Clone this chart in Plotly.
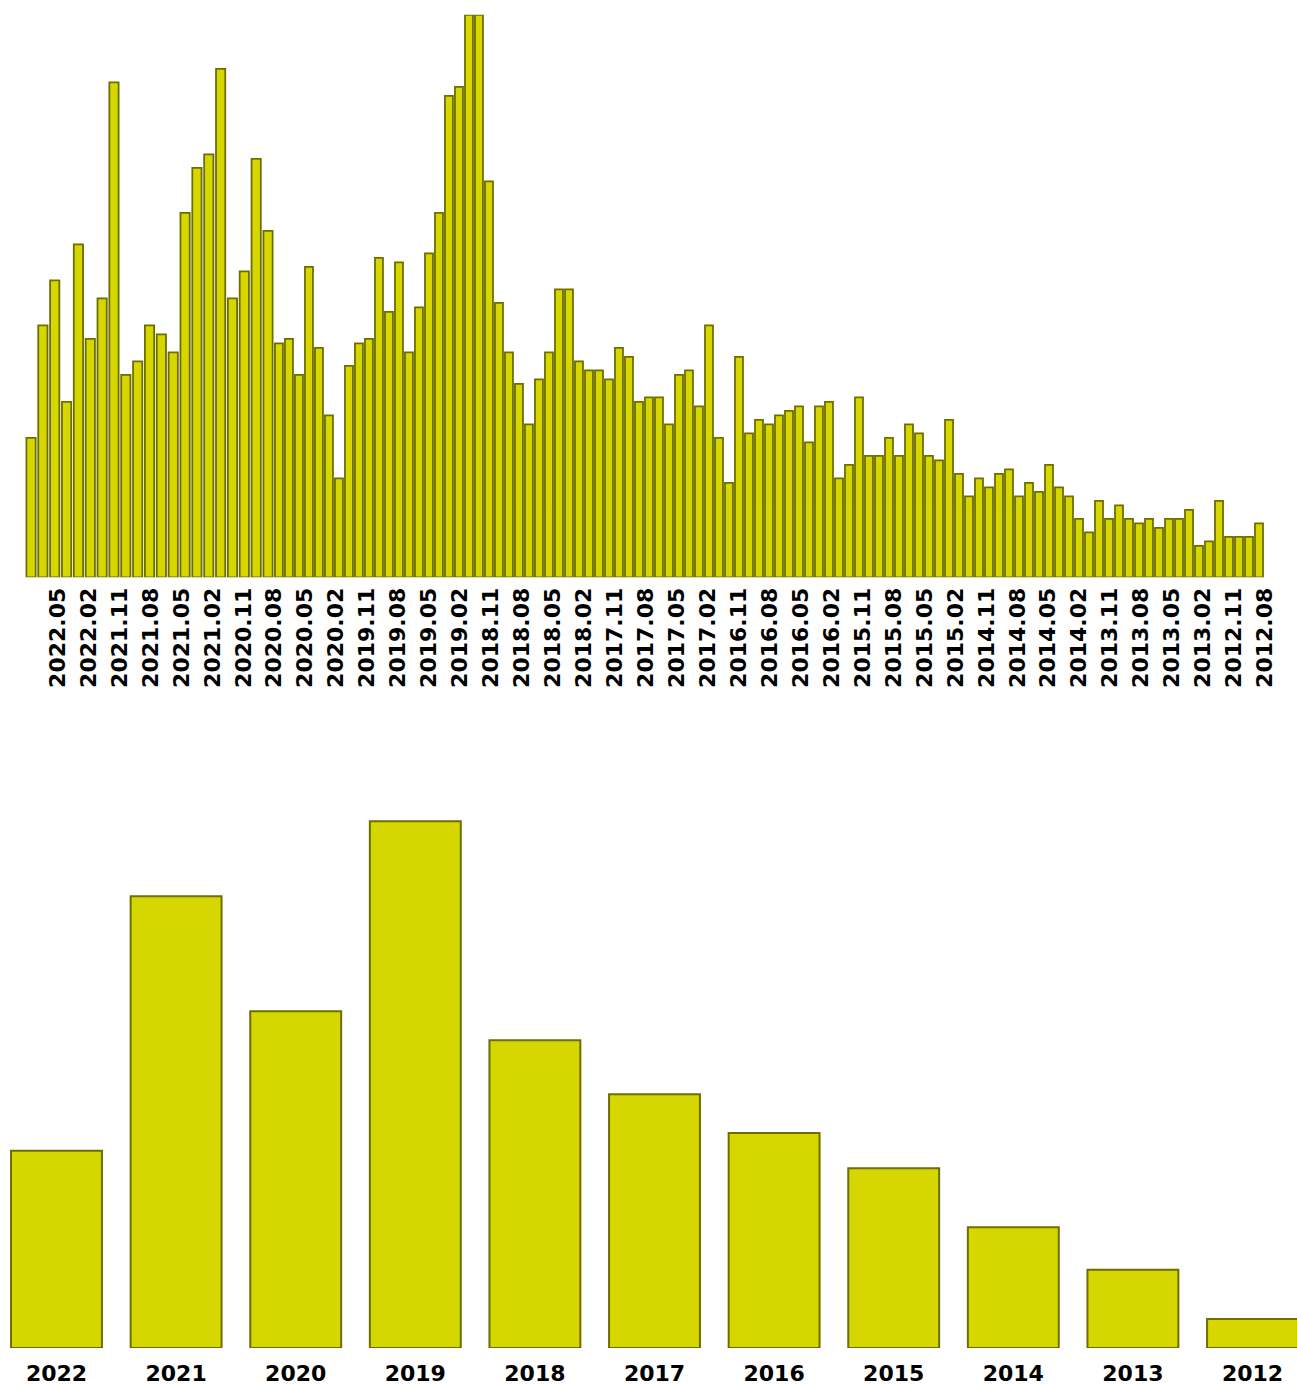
import plotly.graph_objects as go

# ---- data ----
MONTH_LABELS = [
    "2022.07", "2022.06", "2022.05", "2022.04", "2022.03", "2022.02", "2022.01",
    "2021.12", "2021.11", "2021.10", "2021.09", "2021.08", "2021.07", "2021.06", "2021.05", "2021.04", "2021.03", "2021.02", "2021.01",
    "2020.12", "2020.11", "2020.10", "2020.09", "2020.08", "2020.07", "2020.06", "2020.05", "2020.04", "2020.03", "2020.02", "2020.01",
    "2019.12", "2019.11", "2019.10", "2019.09", "2019.08", "2019.07", "2019.06", "2019.05", "2019.04", "2019.03", "2019.02", "2019.01",
    "2018.12", "2018.11", "2018.10", "2018.09", "2018.08", "2018.07", "2018.06", "2018.05", "2018.04", "2018.03", "2018.02", "2018.01",
    "2017.12", "2017.11", "2017.10", "2017.09", "2017.08", "2017.07", "2017.06", "2017.05", "2017.04", "2017.03", "2017.02", "2017.01",
    "2016.12", "2016.11", "2016.10", "2016.09", "2016.08", "2016.07", "2016.06", "2016.05", "2016.04", "2016.03", "2016.02", "2016.01",
    "2015.12", "2015.11", "2015.10", "2015.09", "2015.08", "2015.07", "2015.06", "2015.05", "2015.04", "2015.03", "2015.02", "2015.01",
    "2014.12", "2014.11", "2014.10", "2014.09", "2014.08", "2014.07", "2014.06", "2014.05", "2014.04", "2014.03", "2014.02", "2014.01",
    "2013.12", "2013.11", "2013.10", "2013.09", "2013.08", "2013.07", "2013.06", "2013.05", "2013.04", "2013.03", "2013.02", "2013.01",
    "2012.12", "2012.11", "2012.10", "2012.09", "2012.08",
]
MONTH_VALUES = [
    31, 56, 66, 39, 74, 53, 62,
    110, 45, 48, 56, 54, 50, 81, 91, 94, 113, 62, 68,
    93, 77, 52, 53, 45, 69, 51, 36, 22, 47, 52, 53,
    71, 59, 70, 50, 60, 72, 81, 107, 109, 125, 125, 88,
    61, 50, 43, 34, 44, 50, 64, 64, 48, 46, 46, 44,
    51, 49, 39, 40, 40, 34, 45, 46, 38, 56, 31, 21,
    49, 32, 35, 34, 36, 37, 38, 30, 38, 39, 22, 25,
    40, 27, 27, 31, 27, 34, 32, 27, 26, 35, 23, 18,
    22, 20, 23, 24, 18, 21, 19, 25, 20, 18, 13, 10,
    17, 13, 16, 13, 12, 13, 11, 13, 13, 15, 7, 8,
    17, 9, 9, 9, 12,
]
MONTH_TICKS = [
    "2022.05", "2022.02", "2021.11", "2021.08", "2021.05", "2021.02",
    "2020.11", "2020.08", "2020.05", "2020.02", "2019.11", "2019.08",
    "2019.05", "2019.02", "2018.11", "2018.08", "2018.05", "2018.02",
    "2017.11", "2017.08", "2017.05", "2017.02", "2016.11", "2016.08",
    "2016.05", "2016.02", "2015.11", "2015.08", "2015.05", "2015.02",
    "2014.11", "2014.08", "2014.05", "2014.02", "2013.11", "2013.08",
    "2013.05", "2013.02", "2012.11", "2012.08",
]
YEARS = ["2022", "2021", "2020", "2019", "2018", "2017", "2016", "2015", "2014", "2013", "2012"]
YEAR_VALUES = [381, 872, 650, 1017, 594, 490, 415, 347, 233, 151, 56]

# the reference draws its first 21 monthly bars a little wider apart than the rest
SPLIT = 21

# ---- style ----
FILL = "#d6d600"
EDGE = "#6e6e00"
FONT = dict(family="DejaVu Sans", size=22, color="#000000", weight="bold")

fig = go.Figure()
# carrier for the evenly spaced month tick labels (draws nothing itself)
fig.add_trace(go.Scatter(
    x=MONTH_LABELS, y=MONTH_VALUES, xaxis="x", yaxis="y",
    mode="none", hoverinfo="skip", showlegend=False,
))
fig.add_trace(go.Bar(
    x=MONTH_LABELS[:SPLIT], y=MONTH_VALUES[:SPLIT], xaxis="x3", yaxis="y", width=0.78,
    marker=dict(color=FILL, line=dict(color=EDGE, width=1.8)),
))
fig.add_trace(go.Bar(
    x=MONTH_LABELS[SPLIT:], y=MONTH_VALUES[SPLIT:], xaxis="x4", yaxis="y", width=0.8,
    marker=dict(color=FILL, line=dict(color=EDGE, width=1.8)),
))
fig.add_trace(go.Bar(
    x=YEARS, y=YEAR_VALUES, xaxis="x2", yaxis="y2", width=0.76,
    marker=dict(color=FILL, line=dict(color=EDGE, width=2)),
))

hidden_x = dict(type="category", anchor="y", showticklabels=False, ticks="",
                showgrid=False, zeroline=False, showline=False)

fig.update_layout(
    width=1297, height=1385,
    margin=dict(l=0, r=0, t=0, b=37, pad=0),
    paper_bgcolor="white", plot_bgcolor="white",
    showlegend=False,
    # month tick labels, evenly spaced along the whole top axis
    xaxis=dict(
        domain=[0, 1], anchor="y", type="category",
        categoryorder="array", categoryarray=MONTH_LABELS,
        range=[-3.004, 122.68],
        tickmode="array", tickvals=MONTH_TICKS, ticktext=MONTH_TICKS,
        tickangle=-90, tickfont=FONT, ticks="",
        showgrid=False, zeroline=False, showline=False,
        ticklabelshift=6, ticklabelstandoff=5,
    ),
    xaxis3=dict(domain=[0.01935, 0.21122], range=[-0.5, SPLIT - 0.5], **hidden_x),
    xaxis4=dict(domain=[0.21122, 0.97456], range=[-0.5, len(MONTH_LABELS) - SPLIT - 0.5], **hidden_x),
    yaxis=dict(
        domain=[0.57174, 0.98902], anchor="x", range=[0, 125],
        showgrid=False, zeroline=False, showline=False, showticklabels=False, ticks="",
    ),
    xaxis2=dict(
        domain=[0, 1], anchor="y2", type="category",
        range=[-0.4724, 10.372],
        tickfont=FONT, ticks="",
        showgrid=False, zeroline=False, showline=False,
        ticklabelstandoff=10,
    ),
    yaxis2=dict(
        domain=[0, 0.41024], anchor="x2", range=[0, 1067.6],
        showgrid=False, zeroline=False, showline=False, showticklabels=False, ticks="",
    ),
)

fig.write_html(
    "out.html",
    config={"displayModeBar": False},
    post_script="document.body.style.margin='0';",
)
